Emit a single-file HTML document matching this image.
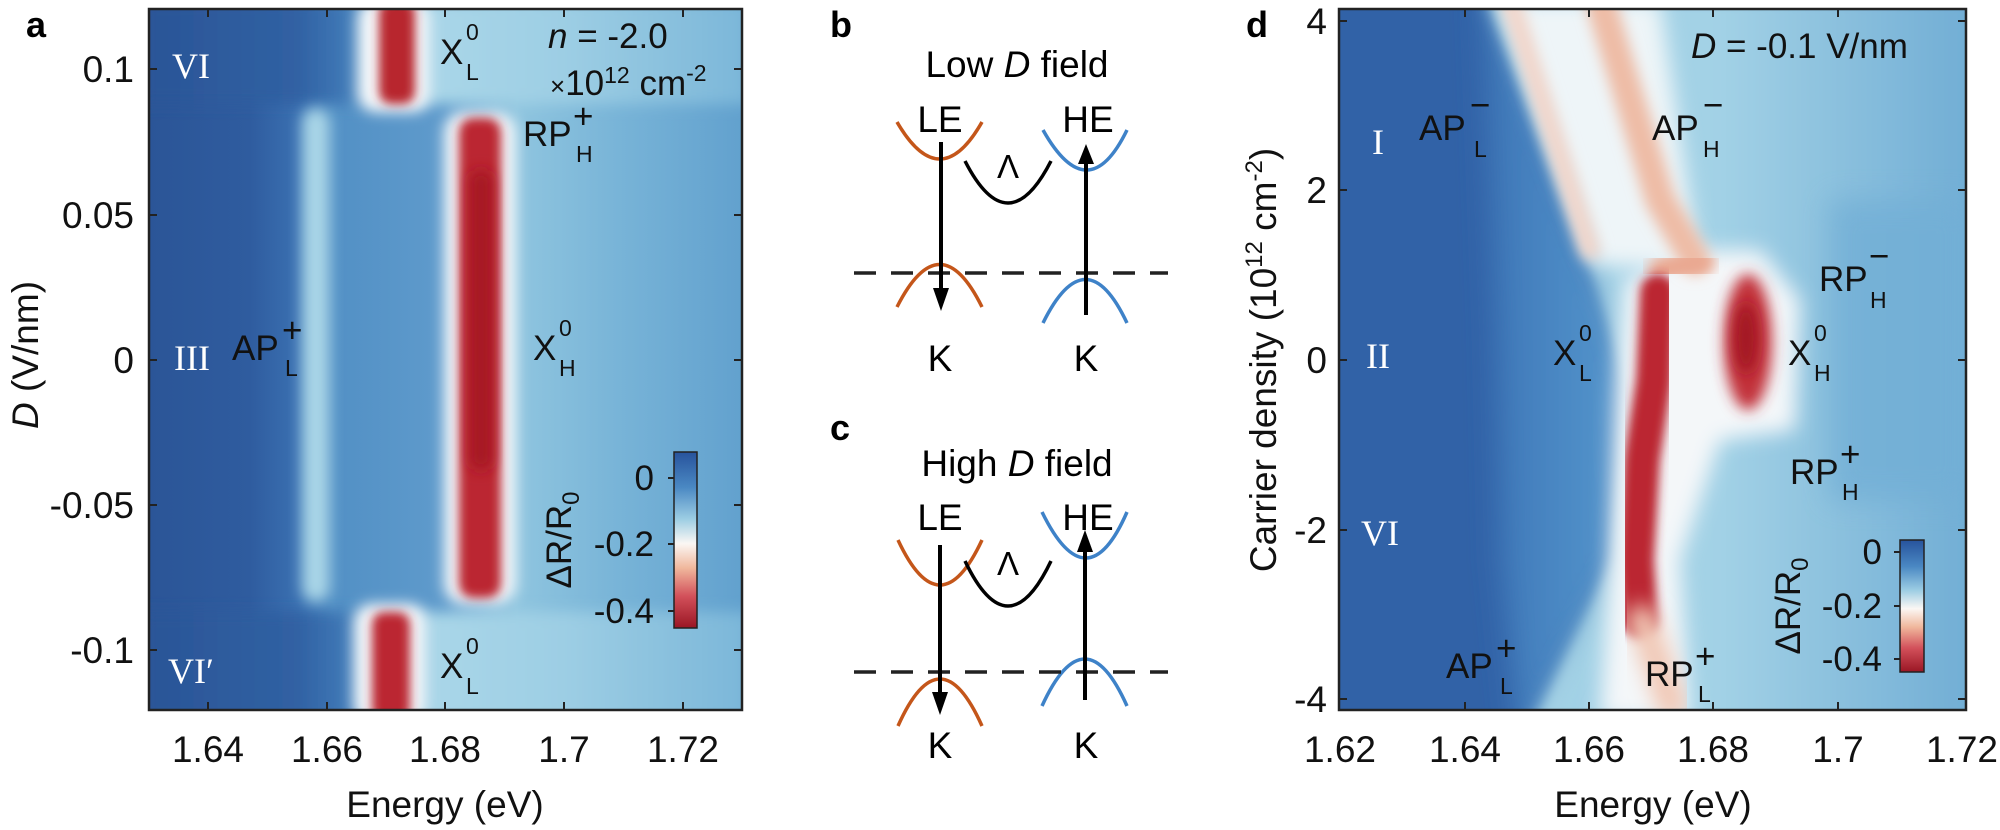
<!DOCTYPE html>
<html><head><meta charset="utf-8"><style>
html,body{margin:0;padding:0;background:#fff;}
svg{display:block;font-family:"Liberation Sans",sans-serif;}
</style></head><body>
<svg width="2000" height="830" viewBox="0 0 2000 830" xmlns="http://www.w3.org/2000/svg">
<defs>
<clipPath id="ca"><rect x="149" y="9" width="593" height="701"/></clipPath>
<clipPath id="cd"><rect x="1339" y="9" width="627" height="701"/></clipPath>
<filter id="b3" x="-50%" y="-50%" width="200%" height="200%"><feGaussianBlur stdDeviation="5"/></filter>
<filter id="b6" x="-50%" y="-50%" width="200%" height="200%"><feGaussianBlur stdDeviation="7"/></filter>
<filter id="b10" x="-50%" y="-50%" width="200%" height="200%"><feGaussianBlur stdDeviation="10"/></filter>
<filter id="b20" x="-50%" y="-50%" width="200%" height="200%"><feGaussianBlur stdDeviation="14"/></filter>
<linearGradient id="ga" x1="149" x2="742" y1="0" y2="0" gradientUnits="userSpaceOnUse">
<stop offset="0" stop-color="#2b5597"/><stop offset="0.17" stop-color="#2f5c9f"/>
<stop offset="0.25" stop-color="#3a70b1"/><stop offset="0.31" stop-color="#5290c5"/>
<stop offset="0.5" stop-color="#5f9bcc"/><stop offset="0.62" stop-color="#8fc5df"/>
<stop offset="0.8" stop-color="#77b3d7"/><stop offset="1" stop-color="#62a1ce"/></linearGradient>
<linearGradient id="gab" x1="149" x2="742" y1="0" y2="0" gradientUnits="userSpaceOnUse">
<stop offset="0" stop-color="#2b5597"/><stop offset="0.25" stop-color="#3061a3"/>
<stop offset="0.33" stop-color="#3f78b6"/><stop offset="0.38" stop-color="#6fa9d2"/>
<stop offset="0.48" stop-color="#a9d6e8"/><stop offset="0.7" stop-color="#9dcee4"/>
<stop offset="1" stop-color="#7cb7d9"/></linearGradient>
<linearGradient id="cb" x1="0" x2="0" y1="0" y2="1">
<stop offset="0" stop-color="#27539c"/><stop offset="0.2" stop-color="#4a88c3"/>
<stop offset="0.38" stop-color="#9ccde3"/><stop offset="0.52" stop-color="#fbf7f4"/>
<stop offset="0.66" stop-color="#f0b79c"/><stop offset="0.82" stop-color="#d2505a"/>
<stop offset="1" stop-color="#9a1624"/></linearGradient>
<linearGradient id="gd" x1="1339" x2="1966" y1="0" y2="0" gradientUnits="userSpaceOnUse">
<stop offset="0" stop-color="#9fd0e5"/><stop offset="0.6" stop-color="#a3d2e6"/>
<stop offset="1" stop-color="#72aed5"/></linearGradient>
<linearGradient id="gmid" x1="1440" x2="1620" y1="0" y2="0" gradientUnits="userSpaceOnUse">
<stop offset="0" stop-color="#3668ac"/><stop offset="0.5" stop-color="#4581bf"/><stop offset="1" stop-color="#5596cc"/></linearGradient>
</defs>

<!-- ============ Panel a ============ -->
<g clip-path="url(#ca)">
<rect x="149" y="9" width="593" height="701" fill="url(#ga)"/>
<g filter="url(#b6)">
<rect x="140" y="0" width="610" height="104" fill="url(#gab)"/>
<rect x="140" y="612" width="610" height="110" fill="url(#gab)"/>
</g>
<rect x="302" y="108" width="28" height="494" rx="14" fill="#a9d5e7" filter="url(#b6)"/>
<rect x="444" y="112" width="72" height="492" rx="20" fill="#f4f8fa" filter="url(#b6)"/>
<rect x="459" y="118" width="42" height="480" rx="14" fill="#bb2730" filter="url(#b3)"/>
<rect x="470" y="170" width="22" height="300" rx="10" fill="#a51824" filter="url(#b6)"/>
<rect x="358" y="0" width="72" height="112" rx="18" fill="#f5f8fa" filter="url(#b6)"/>
<rect x="379" y="0" width="36" height="104" rx="12" fill="#b8262e" filter="url(#b3)"/>
<rect x="354" y="604" width="72" height="120" rx="18" fill="#f5f8fa" filter="url(#b6)"/>
<rect x="372" y="612" width="38" height="110" rx="12" fill="#bb2830" filter="url(#b3)"/>
</g>
<rect x="149" y="9" width="593" height="701" fill="none" stroke="#222" stroke-width="2.5"/>
<g stroke="#222" stroke-width="2">
<path d="M208 710v-8M327 710v-8M445 710v-8M564 710v-8M683 710v-8M208 9v8M327 9v8M445 9v8M564 9v8M683 9v8"/>
<path d="M149 69h8M149 215h8M149 360h8M149 505h8M149 650h8M742 69h-8M742 215h-8M742 360h-8M742 505h-8M742 650h-8"/>
</g>
<g font-size="37" fill="#111" text-anchor="middle">
<text x="208" y="762">1.64</text><text x="327" y="762">1.66</text><text x="445" y="762">1.68</text><text x="564" y="762">1.7</text><text x="683" y="762">1.72</text>
<text x="445" y="817">Energy (eV)</text>
</g>
<g font-size="37" fill="#111" text-anchor="end">
<text x="134" y="82">0.1</text><text x="134" y="228">0.05</text><text x="134" y="373">0</text><text x="134" y="518">-0.05</text><text x="134" y="663">-0.1</text>
</g>
<text transform="translate(38,355) rotate(-90)" font-size="37" text-anchor="middle" fill="#111"><tspan font-style="italic">D</tspan> (V/nm)</text>
<text x="26" y="37" font-size="36" font-weight="bold">a</text>
<g font-family="Liberation Serif,serif" fill="#fff" font-size="36">
<text x="172" y="78">VI</text><text x="174" y="370">III</text><text x="168" y="683">VI′</text>
</g>
<g fill="#111" font-size="35">
<text x="440" y="64">X</text><text x="466" y="40" font-size="23">0</text><text x="466" y="80" font-size="23">L</text>
<text x="523" y="146">RP</text><text x="573" y="128">+</text><text x="576" y="162" font-size="23">H</text>
<text x="232" y="360">AP</text><text x="282" y="342">+</text><text x="285" y="376" font-size="23">L</text>
<text x="533" y="360">X</text><text x="559" y="336" font-size="23">0</text><text x="559" y="376" font-size="23">H</text>
<text x="440" y="678">X</text><text x="466" y="654" font-size="23">0</text><text x="466" y="694" font-size="23">L</text>
<text x="548" y="48"><tspan font-style="italic">n</tspan> = -2.0</text>
<text x="550" y="95"><tspan font-size="26">×</tspan>10<tspan font-size="23" dy="-12">12</tspan><tspan dy="12"> cm</tspan><tspan font-size="23" dy="-14">-2</tspan></text>
</g>
<rect x="674" y="452" width="23" height="176" fill="url(#cb)" stroke="#222" stroke-width="1.5"/>
<path d="M674 478h-6M674 544h-6M674 611h-6" stroke="#222" stroke-width="2"/>
<g font-size="35" text-anchor="end" fill="#111">
<text x="654" y="490">0</text><text x="654" y="556">-0.2</text><text x="654" y="623">-0.4</text>
</g>
<text transform="translate(571,540) rotate(-90)" font-size="35" text-anchor="middle" fill="#111">ΔR/R<tspan font-size="24" dy="8">0</tspan></text>

<!-- ============ Panels b, c ============ -->
<text x="830" y="37" font-size="36" font-weight="bold">b</text>
<text x="1017" y="77" font-size="37" text-anchor="middle">Low <tspan font-style="italic">D</tspan> field</text>
<g font-size="37" text-anchor="middle">
<text x="940" y="132">LE</text><text x="1088" y="132">HE</text>
<text x="940" y="371">K</text><text x="1086" y="371">K</text>
<text x="1008" y="178" font-size="33">Λ</text>
</g>
<g fill="none" stroke-width="3.5">
<path d="M897 122 Q940 196 982 122" stroke="#c4561a"/>
<path d="M897 307 Q940 222 982 307" stroke="#c4561a"/>
<path d="M1043 130 Q1088 210 1127 130" stroke="#3e82c8"/>
<path d="M1043 323 Q1086 236 1127 323" stroke="#3e82c8"/>
<path d="M965 161 Q1008 245 1051 161" stroke="#000"/>
<path d="M854 273H1168" stroke="#222" stroke-dasharray="22,15" stroke-width="3.5"/>
<path d="M941 142V292M1086 315V162" stroke="#000" stroke-width="4"/>
</g>
<path d="M933 288h16l-8 23z" fill="#000"/><path d="M1078 164h16l-8-20z" fill="#000"/>

<text x="830" y="440" font-size="36" font-weight="bold">c</text>
<text x="1017" y="476" font-size="37" text-anchor="middle">High <tspan font-style="italic">D</tspan> field</text>
<g font-size="37" text-anchor="middle">
<text x="940" y="530">LE</text><text x="1088" y="530">HE</text>
<text x="940" y="758">K</text><text x="1086" y="758">K</text>
<text x="1008" y="575" font-size="33">Λ</text>
</g>
<g fill="none" stroke-width="3.5">
<path d="M898 540 Q940 630 982 540" stroke="#c4561a"/>
<path d="M898 726 Q940 632 982 726" stroke="#c4561a"/>
<path d="M1042 512 Q1087 604 1127 512" stroke="#3e82c8"/>
<path d="M1042 706 Q1085 612 1127 706" stroke="#3e82c8"/>
<path d="M965 561 Q1008 651 1051 561" stroke="#000"/>
<path d="M854 672H1168" stroke="#222" stroke-dasharray="22,15" stroke-width="3.5"/>
<path d="M940 545V695M1085 700V550" stroke="#000" stroke-width="4"/>
</g>
<path d="M932 692h16l-8 23z" fill="#000"/><path d="M1077 552h16l-8-22z" fill="#000"/>

<!-- ============ Panel d ============ -->
<text x="1246" y="37" font-size="36" font-weight="bold">d</text>
<g clip-path="url(#cd)">
<rect x="1339" y="9" width="627" height="701" fill="#3162a7"/>
<polygon points="1482,-10 1494,-10 1600,280 1632,380 1618,560 1530,740 1518,740 1500,560 1495,330" fill="url(#gmid)" filter="url(#b20)"/>
<polygon points="1485,-10 2000,-10 2000,740 1525,740 1615,560 1630,400 1595,270" fill="url(#gd)" filter="url(#b10)"/>
<polygon points="1490,-10 1600,280 1632,380 1618,560 1530,740 1545,740 1625,560 1640,380 1605,270 1500,-10" fill="#a8d5e7" filter="url(#b6)"/>
<rect x="1830" y="200" width="140" height="300" fill="#72afd6" filter="url(#b20)" opacity="0.8"/>
<path d="M1500 0 L1595 265 L1700 270 L1660 0 Z" fill="#eef5f8" filter="url(#b10)"/>
<path d="M1625 280 L1690 250 L1760 250 L1800 300 L1795 430 L1720 440 L1680 560 L1690 720 L1600 720 L1610 560 L1615 400 Z" fill="#f4f7f9" filter="url(#b10)"/>
<path d="M1510 0 L1590 250" stroke="#f3d6ca" stroke-width="20" stroke-linecap="round" fill="none" filter="url(#b6)"/>
<path d="M1600 0 L1660 200 L1695 260" stroke="#eebca6" stroke-width="30" stroke-linecap="round" fill="none" filter="url(#b6)"/>
<path d="M1662 270 L1700 262" stroke="#eaa891" stroke-width="28" stroke-linecap="round" fill="none" filter="url(#b6)"/>
<path d="M1658 292 L1654 380 L1642 460 L1636 560 L1640 620" stroke="#bb2730" stroke-width="36" stroke-linecap="round" fill="none" filter="url(#b3)"/>
<path d="M1642 620 L1672 705" stroke="#f1c8b5" stroke-width="30" stroke-linecap="round" fill="none" filter="url(#b10)"/>
<ellipse cx="1748" cy="342" rx="24" ry="68" fill="#c2333a" filter="url(#b6)"/>
<ellipse cx="1746" cy="338" rx="12" ry="36" fill="#a31824" filter="url(#b6)"/>
</g>
<rect x="1339" y="9" width="627" height="701" fill="none" stroke="#222" stroke-width="2.5"/>
<g stroke="#222" stroke-width="2">
<path d="M1465 710v-8M1589 710v-8M1713 710v-8M1838 710v-8M1465 9v8M1589 9v8M1713 9v8M1838 9v8"/>
<path d="M1339 21h8M1339 190h8M1339 360h8M1339 530h8M1339 699h8M1966 21h-8M1966 190h-8M1966 360h-8M1966 530h-8M1966 699h-8"/>
</g>
<g font-size="37" fill="#111" text-anchor="middle">
<text x="1340" y="762">1.62</text><text x="1465" y="762">1.64</text><text x="1589" y="762">1.66</text><text x="1713" y="762">1.68</text><text x="1838" y="762">1.7</text><text x="1962" y="762">1.72</text>
<text x="1653" y="817">Energy (eV)</text>
</g>
<g font-size="37" fill="#111" text-anchor="end">
<text x="1327" y="34">4</text><text x="1327" y="203">2</text><text x="1327" y="373">0</text><text x="1327" y="543">-2</text><text x="1327" y="712">-4</text>
</g>
<text transform="translate(1276,360) rotate(-90)" font-size="37" text-anchor="middle" fill="#111">Carrier density (10<tspan font-size="24" dy="-14">12</tspan><tspan dy="14"> cm</tspan><tspan font-size="24" dy="-14">-2</tspan><tspan dy="14">)</tspan></text>
<g font-family="Liberation Serif,serif" fill="#fff" font-size="36">
<text x="1372" y="154">I</text><text x="1366" y="368">II</text><text x="1361" y="545">VI</text>
</g>
<g fill="#111" font-size="35">
<text x="1691" y="58"><tspan font-style="italic">D</tspan> = -0.1 V/nm</text>
<text x="1419" y="140">AP</text><text x="1470" y="117">−</text><text x="1474" y="157" font-size="23">L</text>
<text x="1652" y="140">AP</text><text x="1703" y="117">−</text><text x="1703" y="157" font-size="23">H</text>
<text x="1819" y="291">RP</text><text x="1869" y="268">−</text><text x="1870" y="308" font-size="23">H</text>
<text x="1553" y="365">X</text><text x="1579" y="341" font-size="23">0</text><text x="1579" y="381" font-size="23">L</text>
<text x="1788" y="365">X</text><text x="1814" y="341" font-size="23">0</text><text x="1814" y="381" font-size="23">H</text>
<text x="1790" y="484">RP</text><text x="1840" y="466">+</text><text x="1842" y="500" font-size="23">H</text>
<text x="1446" y="678">AP</text><text x="1496" y="660">+</text><text x="1500" y="694" font-size="23">L</text>
<text x="1645" y="686">RP</text><text x="1695" y="668">+</text><text x="1698" y="702" font-size="23">L</text>
</g>
<rect x="1900" y="540" width="24" height="132" fill="url(#cb)" stroke="#222" stroke-width="1.5"/>
<path d="M1900 552h-6M1900 606h-6M1900 659h-6" stroke="#222" stroke-width="2"/>
<g font-size="35" text-anchor="end" fill="#111">
<text x="1882" y="564">0</text><text x="1882" y="618">-0.2</text><text x="1882" y="671">-0.4</text>
</g>
<text transform="translate(1800,606) rotate(-90)" font-size="35" text-anchor="middle" fill="#111">ΔR/R<tspan font-size="24" dy="8">0</tspan></text>
</svg>
</body></html>
